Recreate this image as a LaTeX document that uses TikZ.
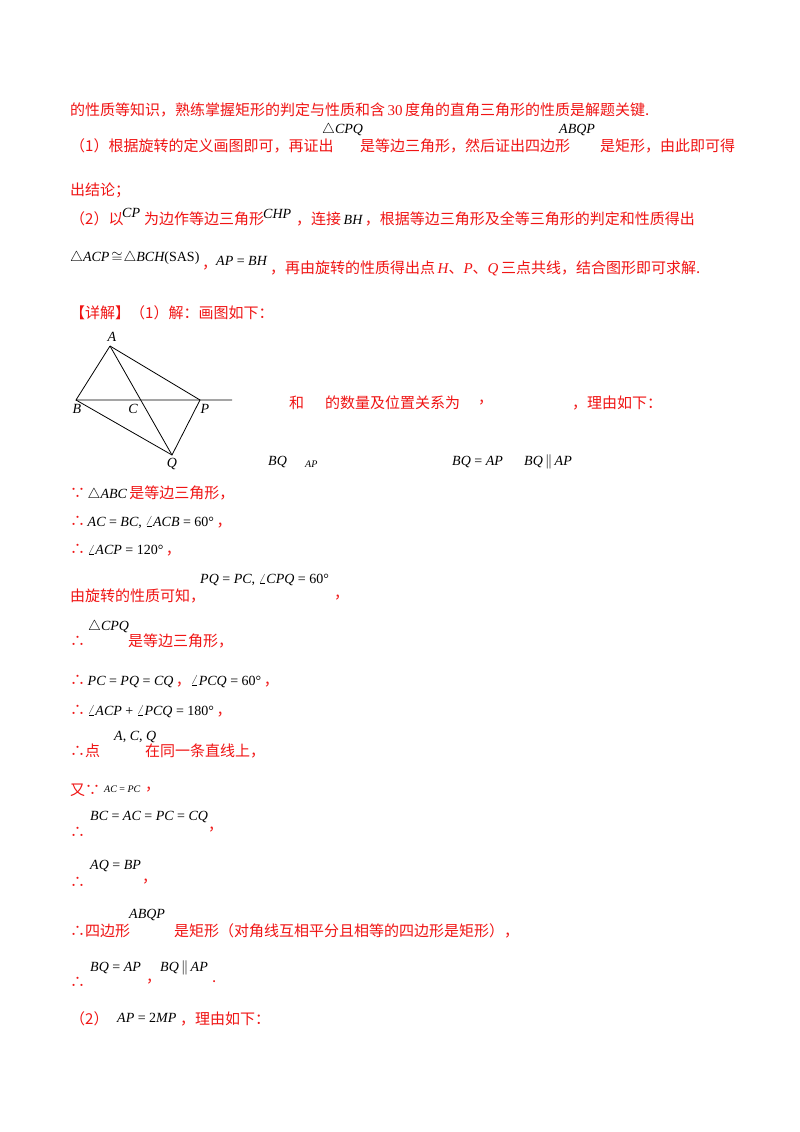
\documentclass[tikz,border=0pt]{standalone}
\usepackage{fontspec}
\setmainfont{Liberation Serif}
\newfontfamily\cjk{Noto Sans CJK SC}
\definecolor{red0}{RGB}{240,20,20}
\tikzset{
 cn/.style={anchor=west,inner sep=0pt,text=red0,font=\cjk\fontsize{15}{17}\selectfont},
 mt/.style={anchor=west,inner sep=0pt,text=black,font=\fontsize{14}{16}\selectfont},
 ms/.style={anchor=west,inner sep=0pt,text=black,font=\fontsize{10}{12}\selectfont},
 edge/.style={black,line width=0.8pt},
 pt/.style={inner sep=0pt,font=\itshape\fontsize{14}{16}\selectfont}
}
\newcommand{\mi}[1]{{\rmfamily\itshape #1}}
\newcommand{\bk}[1]{\textcolor{black}{\rmfamily\fontsize{14}{16}\selectfont #1}}
\newcommand{\rd}[1]{{\rmfamily\fontsize{15}{17}\selectfont #1}}
\begin{document}
\begin{tikzpicture}[x=1pt,y=-1pt]
\useasboundingbox[fill=white] (0,0) rectangle (800,1132);
% text
\node[cn] (l1) at (70,110) {的性质等知识，熟练掌握矩形的判定与性质和含\,\rd{30}\,度角的直角三角形的性质是解题关键.};
\node[cn] (l2a) at (70,146) {（1）根据旋转的定义画图即可，再证出};
\node[mt] (l2b) at (322,130) {$\triangle$\mi{CPQ}};
\node[cn] (l2c) at (360,146) {是等边三角形，然后证出四边形};
\node[mt] (l2d) at (559,130) {\mi{ABQP}};
\node[cn] (l2e) at (600,146) {是矩形，由此即可得};
\node[cn] (l3) at (70,190) {出结论；};
\node[cn] (l4a) at (70,219) {（2）以};
\node[mt] (l4b) at (122,213) {\mi{CP}};
\node[cn] (l4c) at (144,219) {为边作等边三角形};
\node[mt] (l4d) at (263,214) {\mi{CHP}};
\node[cn] (l4e) at (296,219) {，连接\,\bk{\mi{BH}}\,，根据等边三角形及全等三角形的判定和性质得出};
\node[mt] (l5a) at (70,258) {$\triangle$\mi{ACP}\kern2pt$\cong$\kern1pt$\triangle$\mi{BCH}(SAS)};
\node[cn] (l5b) at (202,268) {，};
\node[mt] (l5c) at (216,261) {\mi{AP} = \mi{BH}};
\node[cn] (l5d) at (270,268) {，再由旋转的性质得出点\,\rd{\mi{H}}、\rd{\mi{P}}、\rd{\mi{Q}}\,三点共线，结合图形即可求解.};
\node[cn] (l6) at (70,313) {【详解】（1）解：画图如下：};
\node[cn] (l7a) at (289,403) {和};
\node[cn] (l7b) at (325,403) {的数量及位置关系为};
\node[cn] (l7c) at (478,403) {，};
\node[cn] (l7d) at (572,403) {，理由如下：};
\node[mt] (l8a) at (268,462) {\mi{BQ}};
\node[ms] (l8b) at (305,464) {\mi{AP}};
\node[mt] (l8c) at (452,462) {\mi{BQ} = \mi{AP}};
\node[mt] (l8d) at (524,462) {\mi{BQ}\,$\|$\,\mi{AP}};
\node[cn] (l9) at (70,494) {∵\,\bk{$\triangle$\mi{ABC}}\,是等边三角形，};
\node[cn] (l10) at (70,522) {∴\,\bk{\mi{AC} = \mi{BC}, $\angle$\mi{ACB} = 60°}\,，};
\node[cn] (l11) at (70,550) {∴\,\bk{$\angle$\mi{ACP} = 120°}\,，};
\node[cn] (l12a) at (70,596) {由旋转的性质可知，};
\node[mt] (l12b) at (200,580) {\mi{PQ} = \mi{PC}, $\angle$\mi{CPQ} = 60°};
\node[cn] (l12c) at (334,598) {，};
\node[cn] (l13a) at (70,641) {∴};
\node[mt] (l13b) at (88,627) {$\triangle$\mi{CPQ}};
\node[cn] (l13c) at (128,641) {是等边三角形，};
\node[cn] (l14) at (70,681) {∴\,\bk{\mi{PC} = \mi{PQ} = \mi{CQ}}\,，\bk{$\angle$\mi{PCQ} = 60°}\,，};
\node[cn] (l15) at (70,711) {∴\,\bk{$\angle$\mi{ACP} + $\angle$\mi{PCQ} = 180°}\,，};
\node[cn] (l16a) at (70,751) {∴点};
\node[mt] (l16b) at (114,737) {\mi{A}, \mi{C}, \mi{Q}};
\node[cn] (l16c) at (145,751) {在同一条直线上，};
\node[cn] (l17a) at (70,790) {又∵};
\node[ms] (l17b) at (104,789) {\mi{AC} = \mi{PC}};
\node[cn] (l17c) at (145,790) {，};
\node[cn] (l18a) at (70,832) {∴};
\node[mt] (l18b) at (90,817) {\mi{BC} = \mi{AC} = \mi{PC} = \mi{CQ}};
\node[cn] (l18c) at (208,830) {，};
\node[cn] (l19a) at (70,882) {∴};
\node[mt] (l19b) at (90,866) {\mi{AQ} = \mi{BP}};
\node[cn] (l19c) at (142,882) {，};
\node[cn] (l20a) at (70,931) {∴四边形};
\node[mt] (l20b) at (129,915) {\mi{ABQP}};
\node[cn] (l20c) at (174,931) {是矩形（对角线互相平分且相等的四边形是矩形），};
\node[cn] (l21a) at (70,982) {∴};
\node[mt] (l21b) at (90,968) {\mi{BQ} = \mi{AP}};
\node[cn] (l21c) at (146,982) {，};
\node[mt] (l21d) at (160,968) {\mi{BQ}\,$\|$\,\mi{AP}};
\node[cn] (l21e) at (212,982) {.};
\node[cn] (l22a) at (70,1019) {（2）};
\node[mt] (l22b) at (117,1018) {\mi{AP} = 2\mi{MP}};
\node[cn] (l22c) at (180,1019) {，理由如下：};
% figure
\coordinate (A) at (110,346);
\coordinate (B) at (76,400);
\coordinate (C) at (135,400);
\coordinate (P) at (200,400);
\coordinate (Q) at (172,455);
\coordinate (E) at (232,400);
\draw[edge] (A) -- (B) -- (E);
\draw[edge] (A) -- (P) -- (Q) -- (B);
\draw[edge] (A) -- (Q);
\node[pt] (nA) at (112,337) {A};
\node[pt] (nB) at (77,409) {B};
\node[pt] (nC) at (133,409) {C};
\node[pt] (nP) at (205,409) {P};
\node[pt] (nQ) at (172,464) {Q};
\end{tikzpicture}
\end{document}
